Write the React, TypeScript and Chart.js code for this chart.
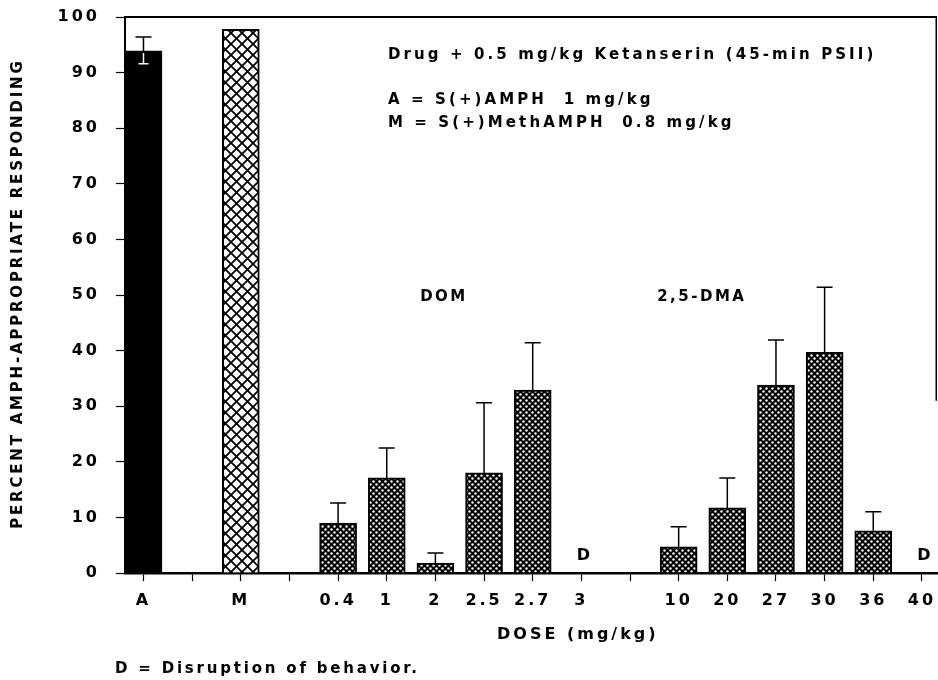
import React, { useEffect, useRef } from 'react';
import { Chart, registerables } from 'chart.js';

Chart.register(...registerables);

// Category slots along the dose axis (empty strings are spacer slots)
const categories = ['A', '', 'M', '', '0.4', '1', '2', '2.5', '2.7', '3', '', '10', '20', '27', '30', '36', '40'];
const yTicks = [0, 10, 20, 30, 40, 50, 60, 70, 80, 90, 100];

// Training-drug controls
const amphValue = 93.9;
const amphErrorHigh = 96.4;
const amphErrorLow = 91.6;
const methValue = 97.8;

// DOM doses (null = disruption of behavior)
const domDoses = ['0.4', '1', '2', '2.5', '2.7', '3'];
const domValues = [9.0, 17.1, 1.8, 18.0, 32.9, null];
const domErrors = [12.6, 22.5, 3.6, 30.6, 41.4, null];

// 2,5-DMA doses (null = disruption of behavior)
const dmaDoses = ['10', '20', '27', '30', '36', '40'];
const dmaValues = [4.7, 11.7, 33.8, 39.7, 7.6, null];
const dmaErrors = [8.3, 17.1, 41.9, 51.4, 11.0, null];

const FONT = '"DejaVu Sans", "Liberation Sans", sans-serif';

function slot(label: string): number {
  return categories.indexOf(label);
}

function makeFinePattern(ctx: CanvasRenderingContext2D): CanvasPattern | string {
  const c = document.createElement('canvas');
  const s = 6;
  c.width = s;
  c.height = s;
  const g = c.getContext('2d');
  if (!g) return '#444';
  g.fillStyle = '#000';
  g.fillRect(0, 0, s, s);
  g.fillStyle = '#fff';
  const r = 1.2;
  for (const [cx, cy] of [[1.5, 1.5], [4.5, 4.5]]) {
    g.beginPath();
    g.arc(cx, cy, r, 0, Math.PI * 2);
    g.fill();
  }
  return ctx.createPattern(c, 'repeat') || '#444';
}

function makeLatticePattern(ctx: CanvasRenderingContext2D): CanvasPattern | string {
  const c = document.createElement('canvas');
  const s = 11;
  c.width = s;
  c.height = s;
  const g = c.getContext('2d');
  if (!g) return '#888';
  g.fillStyle = '#fff';
  g.fillRect(0, 0, s, s);
  g.strokeStyle = '#000';
  g.lineWidth = 1.8;
  g.beginPath();
  g.moveTo(-1, -1);
  g.lineTo(s + 1, s + 1);
  g.moveTo(-1, s + 1);
  g.lineTo(s + 1, -1);
  g.stroke();
  return ctx.createPattern(c, 'repeat') || '#888';
}

function spacedText(ctx: CanvasRenderingContext2D, text: string, x: number, y: number, spacing: number) {
  ctx.letterSpacing = `${spacing}px`;
  let dx = 0;
  if (ctx.textAlign === 'center') dx = spacing / 2;
  ctx.fillText(text, x + dx, y);
}

const decorPlugin = {
  id: 'decor',
  beforeDraw(chart: any) {
    chart.ctx.letterSpacing = '3px';
  },
  afterDatasetsDraw(chart: any) {
    const { ctx, chartArea, scales } = chart;
    const xs = scales.x;
    const ys = scales.y;
    ctx.save();

    // frame: top edge and partial right edge
    ctx.strokeStyle = '#000';
    ctx.lineWidth = 2;
    ctx.beginPath();
    ctx.moveTo(chartArea.left, chartArea.top);
    ctx.lineTo(chartArea.right, chartArea.top);
    ctx.stroke();
    ctx.lineWidth = 1.5;
    ctx.beginPath();
    ctx.moveTo(chartArea.right - 0.75, chartArea.top);
    ctx.lineTo(chartArea.right - 0.75, ys.getPixelForValue(31));
    ctx.stroke();

    // error bars
    const cap = 8;
    chart.data.datasets.forEach((ds: any, di: number) => {
      const meta = chart.getDatasetMeta(di);
      (ds.errors || []).forEach((err: number | null, i: number) => {
        const pt = ds.data[i];
        if (err == null || pt.y == null) return;
        const x = meta.data[i].x;
        const y0 = ys.getPixelForValue(pt.y);
        const y1 = ys.getPixelForValue(err);
        ctx.strokeStyle = '#000';
        ctx.lineWidth = 1.5;
        ctx.beginPath();
        ctx.moveTo(x, y0);
        ctx.lineTo(x, y1);
        ctx.moveTo(x - cap, y1);
        ctx.lineTo(x + cap, y1);
        ctx.stroke();
      });
      (ds.errorsLow || []).forEach((err: number | null, i: number) => {
        const pt = ds.data[i];
        if (err == null || pt.y == null) return;
        const x = meta.data[i].x;
        const y0 = ys.getPixelForValue(pt.y);
        const y1 = ys.getPixelForValue(err);
        ctx.strokeStyle = '#fff';
        ctx.lineWidth = 1.5;
        ctx.beginPath();
        ctx.moveTo(x, y0 + 2);
        ctx.lineTo(x, y1);
        ctx.moveTo(x - cap + 3, y1);
        ctx.lineTo(x + cap - 3, y1);
        ctx.stroke();
      });
    });

    ctx.fillStyle = '#000';
    ctx.textBaseline = 'middle';

    // disruption markers
    ctx.font = `bold 16px ${FONT}`;
    ctx.textAlign = 'center';
    const disrupted = [
      ...domDoses.filter((_, i) => domValues[i] == null),
      ...dmaDoses.filter((_, i) => dmaValues[i] == null),
    ];
    disrupted.forEach((d) => {
      spacedText(ctx, 'D', xs.getPixelForValue(slot(d)) + 2, ys.getPixelForValue(3.1), 0);
    });

    // group labels
    ctx.font = `bold 15px ${FONT}`;
    spacedText(ctx, 'DOM', xs.getPixelForValue(6.15), ys.getPixelForValue(49.6), 2.5);
    spacedText(ctx, '2,5-DMA', xs.getPixelForValue(11.45), ys.getPixelForValue(49.6), 2.5);

    // legend notes
    ctx.textAlign = 'left';
    ctx.font = `bold 15px ${FONT}`;
    spacedText(ctx, 'Drug + 0.5 mg/kg Ketanserin (45-min PSII)', 388, 55, 3.1);
    spacedText(ctx, 'A = S(+)AMPH  1 mg/kg', 388, 100, 3.1);
    spacedText(ctx, 'M = S(+)MethAMPH  0.8 mg/kg', 388, 123, 3.1);

    // axis title and footnote
    ctx.font = `bold 16px ${FONT}`;
    spacedText(ctx, 'DOSE (mg/kg)', 497, 635, 3);
    ctx.font = `bold 15px ${FONT}`;
    spacedText(ctx, 'D = Disruption of behavior.', 115, 669, 2.8);

    ctx.translate(18, (chartArea.top + chartArea.bottom) / 2);
    ctx.rotate(-Math.PI / 2);
    ctx.textAlign = 'center';
    ctx.font = `bold 15px ${FONT}`;
    spacedText(ctx, 'PERCENT AMPH-APPROPRIATE RESPONDING', 0, 0, 2.8);
    ctx.restore();
  },
};

export default function App() {
  const canvasRef = useRef<HTMLCanvasElement | null>(null);

  useEffect(() => {
    const canvas = canvasRef.current;
    if (!canvas) return;
    const ctx = canvas.getContext('2d');
    if (!ctx) return;

    const fine = makeFinePattern(ctx);
    const lattice = makeLatticePattern(ctx);

    const barStyle = {
      borderColor: '#000',
      borderWidth: 2,
      barThickness: 37,
      grouped: false,
    };

    const chart = new Chart(ctx, {
      type: 'bar',
      data: {
        datasets: [
          {
            label: 'A',
            data: [{ x: slot('A'), y: amphValue }],
            backgroundColor: '#000',
            errors: [amphErrorHigh],
            errorsLow: [amphErrorLow],
            ...barStyle,
          } as any,
          {
            label: 'M',
            data: [{ x: slot('M'), y: methValue }],
            backgroundColor: lattice,
            errors: [null],
            ...barStyle,
          } as any,
          {
            label: 'DOM',
            data: domDoses.map((d, i) => ({ x: slot(d), y: domValues[i] })),
            backgroundColor: fine,
            errors: domErrors,
            ...barStyle,
          } as any,
          {
            label: '2,5-DMA',
            data: dmaDoses.map((d, i) => ({ x: slot(d), y: dmaValues[i] })),
            backgroundColor: fine,
            errors: dmaErrors,
            ...barStyle,
          } as any,
        ],
      },
      options: {
        animation: false,
        responsive: false,
        layout: { padding: { top: 17, right: 1, left: 0, bottom: 0 } },
        plugins: { legend: { display: false }, tooltip: { enabled: false } },
        scales: {
          x: {
            type: 'linear',
            min: -0.38,
            max: 16.31,
            offset: false,
            afterFit: (scale: any) => {
              scale.height = 107;
              scale.paddingLeft = 0;
              scale.paddingRight = 0;
            },
            afterBuildTicks: (scale: any) => {
              scale.ticks = categories.map((_, i) => ({ value: i }));
            },
            grid: {
              offset: false,
              drawOnChartArea: false,
              drawTicks: true,
              tickLength: 8,
              tickWidth: 1.2,
              tickColor: '#000',
            },
            border: { color: '#000', width: 2.5 },
            ticks: {
              autoSkip: false,
              maxRotation: 0,
              padding: 10,
              color: '#000',
              font: { family: FONT, size: 16, weight: 'bold' },
              callback: (v: any) => categories[Math.round(Number(v))] ?? '',
            },
          },
          y: {
            min: 0,
            max: 100,
            afterFit: (scale: any) => {
              scale.width = 125;
              scale.paddingTop = 0;
              scale.paddingBottom = 0;
            },
            afterBuildTicks: (scale: any) => {
              scale.ticks = yTicks.map((v) => ({ value: v }));
            },
            grid: {
              drawOnChartArea: false,
              tickLength: 9,
              tickWidth: 1.2,
              tickColor: '#000',
            },
            border: { color: '#000', width: 2 },
            ticks: {
              padding: 16,
              color: '#000',
              font: { family: FONT, size: 16, weight: 'bold' },
            },
          },
        },
      } as any,
      plugins: [decorPlugin],
    });

    return () => chart.destroy();
  }, []);

  return (
    <div style={{ position: 'absolute', left: 0, top: 0, width: 938, height: 680, background: '#fff' }}>
      <canvas ref={canvasRef} width={938} height={680} style={{ display: 'block' }} />
    </div>
  );
}
